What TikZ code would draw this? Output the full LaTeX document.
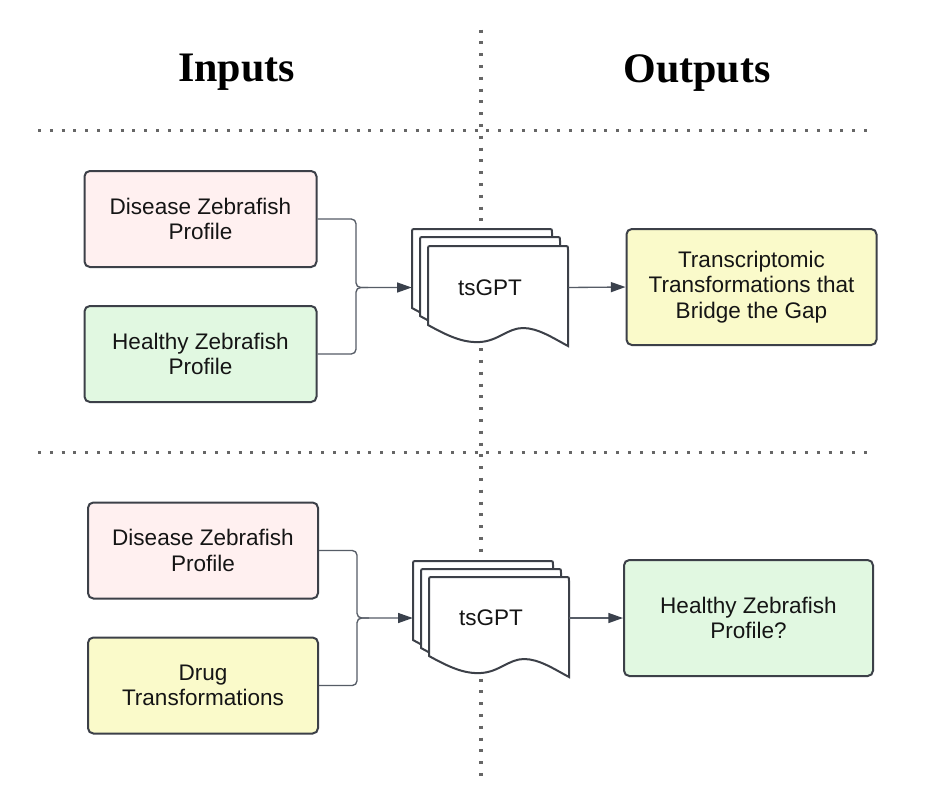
\documentclass[tikz,border=0pt]{standalone}
\usepackage{fontspec}
\setmainfont{Liberation Sans}
\newfontfamily\titlefont{Liberation Serif}
\usetikzlibrary{arrows.meta,calc}
\definecolor{bordc}{HTML}{3C4048}
\definecolor{connc}{HTML}{565C66}
\definecolor{arrc}{HTML}{3A414C}
\definecolor{dotc}{HTML}{666666}
\definecolor{pinkf}{HTML}{FFF0F0}
\definecolor{greenf}{HTML}{E1F8E1}
\definecolor{yellowf}{HTML}{FAFACA}
\definecolor{txtc}{HTML}{151515}
\newcommand\mydocpage{%
  \filldraw[page] (0,79) -- (0,4) .. controls (0,0) .. (4,0) -- (136,0)
    .. controls (140,0) .. (140,4) -- (140,100)
    .. controls (125,92) and (110,82) .. (95,82)
    .. controls (80,82) and (70,95) .. (52,96)
    .. controls (35,97) and (20,90) .. (0,79) -- cycle;}
\begin{document}
\begin{tikzpicture}[x=0.75pt,y=-0.75pt,
  bodyfont/.style={font=\fontsize{16.9pt}{19.2pt}\selectfont, text=txtc},
  titletext/.style={font=\titlefont\bfseries\fontsize{31.5pt}{36pt}\selectfont, text=black, anchor=base, inner sep=0},
  box/.style={bodyfont, draw=bordc, line width=1.5pt, rounded corners=4pt, align=center, inner sep=0},
  inbox/.style={box, minimum width=174pt, minimum height=72pt},
  outbox/.style={box, minimum width=187.5pt, minimum height=87pt},
  page/.style={fill=white, draw=bordc, line width=1.5pt},
  gpt/.style={bodyfont, inner sep=0, minimum width=117pt, minimum height=15pt},
  conn/.style={draw=connc, line width=1pt, rounded corners=3.5pt},
  arr/.style={-{Triangle[length=11pt,width=7.5pt]}, arrows={[color=arrc]}},
  dotline/.style={draw=dotc, line width=2.3pt, dash pattern=on 2.3pt off 6.55pt}
]
\useasboundingbox (0,0) rectangle (942,807);
\fill[white] (0,0) rectangle (942,807);

% dotted guide lines
\draw[dotline] (38,130.5) -- (870,130.5);
\draw[dotline] (38,452.7) -- (870,452.7);
\draw[dotline] (481,29.5) -- (481,778);

% titles
\node[titletext] (tin) at (236.5,81.5) {Inputs};
\node[titletext] (tout) at (697,82) {Outputs};

% ---- top section ----
\node[inbox, fill=pinkf] (b1) at (200.5,219) {Disease Zebrafish\\Profile};
\node[inbox, fill=greenf] (b2) at (200.5,354) {Healthy Zebrafish\\Profile};

\begin{scope}[shift={(412,229)}]\mydocpage\end{scope}
\begin{scope}[shift={(420,237)}]\mydocpage\end{scope}
\begin{scope}[shift={(428,246)}]\mydocpage\end{scope}
\node[gpt] (g1) at (490,287.5) {tsGPT};

\node[outbox, fill=yellowf] (o1) at (751.5,287) {Transcriptomic\\Transformations that\\Bridge the Gap};

\coordinate (j1) at (356,287.5);
\draw[conn] (b2.east) -| (j1) -- ($(j1)+(12,0)$);
\draw[conn, arr] (b1.east) -| (j1) -- (g1.west);
\draw[conn, arr] (g1.east) -- (o1.west);

% ---- bottom section ----
\node[inbox, fill=pinkf, minimum width=172.5pt] (b3) at (203,550.5) {Disease Zebrafish\\Profile};
\node[inbox, fill=yellowf, minimum width=172.5pt] (b4) at (203,685.5) {Drug\\Transformations};

\begin{scope}[shift={(413,561)}]\mydocpage\end{scope}
\begin{scope}[shift={(421,569)}]\mydocpage\end{scope}
\begin{scope}[shift={(429,577)}]\mydocpage\end{scope}
\node[gpt] (g2) at (491,618) {tsGPT};

\node[outbox, fill=greenf, minimum width=186.75pt] (o2) at (748.5,618) {Healthy Zebrafish\\Profile?};

\coordinate (j2) at (357,618);
\draw[conn] (b4.east) -| (j2) -- ($(j2)+(12,0)$);
\draw[conn, arr] (b3.east) -| (j2) -- (g2.west);
\draw[conn, arr] (g2.east) -- (o2.west);
\end{tikzpicture}
\end{document}
